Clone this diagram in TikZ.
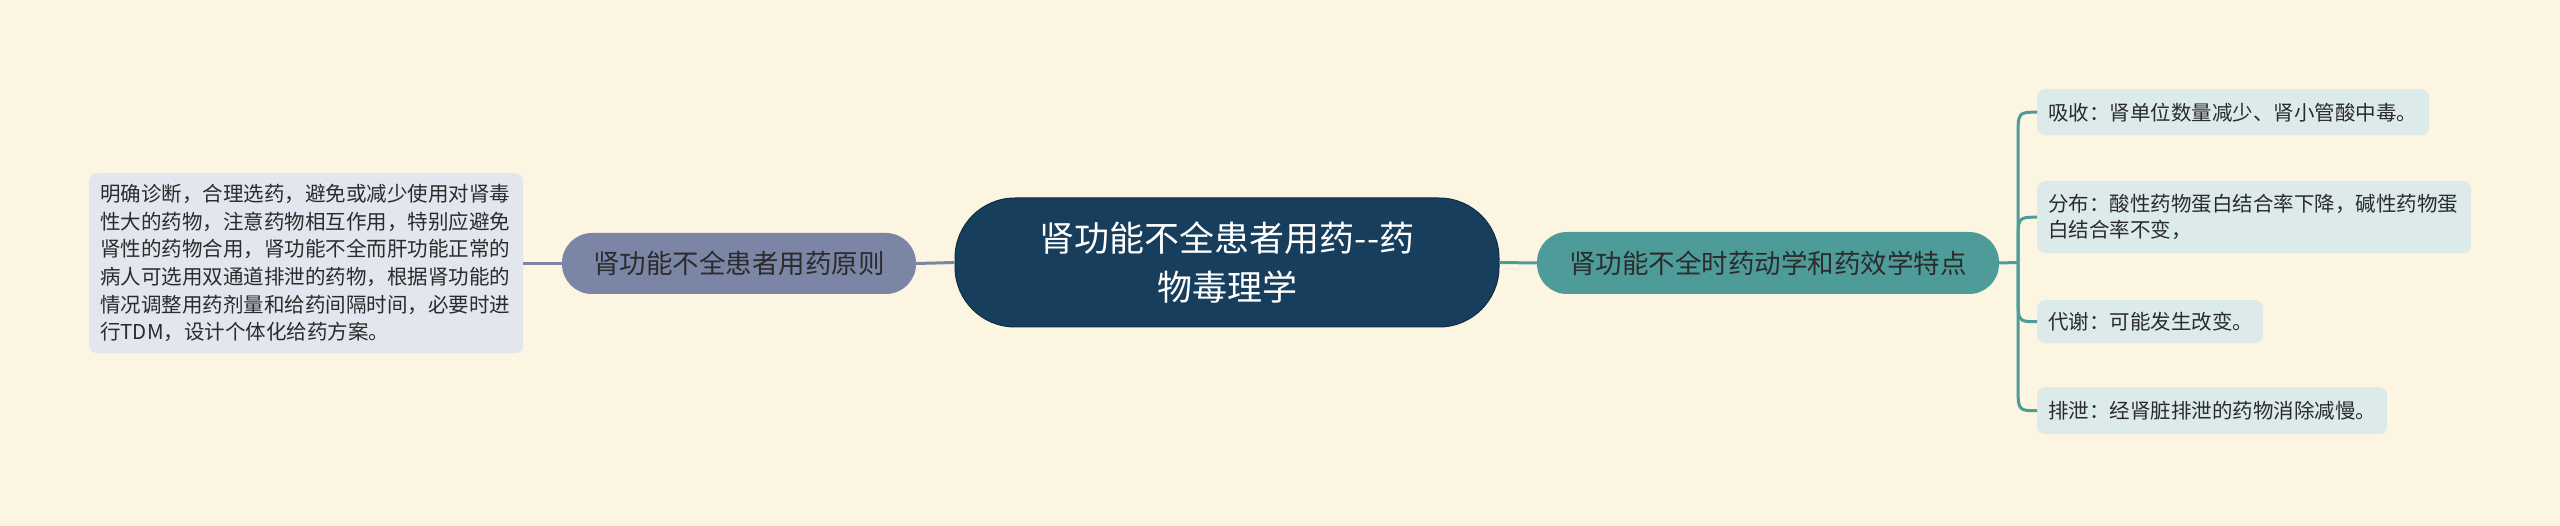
\documentclass[tikz,border=0pt]{standalone}
\usepackage{fontspec}
\setmainfont{Noto Sans CJK SC}
\usetikzlibrary{calc}
\definecolor{bgc}{HTML}{FBF5E1}
\definecolor{centerc}{HTML}{173E5C}
\definecolor{centerb}{HTML}{0F2E47}
\definecolor{lbc}{HTML}{7B86A6}
\definecolor{llc}{HTML}{E3E6EE}
\definecolor{rbc}{HTML}{4E9C99}
\definecolor{rlc}{HTML}{DCEBE9}
\definecolor{txt}{HTML}{2B2B2B}
\tikzset{
  leafbox/.style={rectangle, rounded corners=8pt, inner xsep=11pt, inner ysep=0pt, align=left, text=txt,
    font=\fontsize{20.5}{26}\selectfont, anchor=north west},
  branchbox/.style={rectangle, rounded corners=30pt, inner sep=0pt, align=center, text=txt,
    font=\fontsize{26.5}{32}\selectfont},
  lconn/.style={draw=lbc, line width=3pt},
  rconn/.style={draw=rbc, line width=3pt},
}
\begin{document}
\begin{tikzpicture}[x=1pt,y=1pt]
\fill[bgc] (0,0) rectangle (2560,-526);
\useasboundingbox (0,0) rectangle (2560,-526);
% center
\node[rectangle, rounded corners=60pt, fill=centerc, draw=centerb, line width=1pt, minimum width=544pt, minimum height=129pt,
  inner sep=0pt, align=center, text=white, font=\fontsize{35}{49}\selectfont] (c) at (1227,-262.5)
  {肾功能不全患者用药-{}-药\\物毒理学};
% left branch
\node[branchbox, fill=lbc, minimum width=354pt, minimum height=61pt] (lb) at (739,-263.5) {肾功能不全患者用药原则};
\node[leafbox, fill=llc, text width=412pt, minimum height=180pt, font=\fontsize{20.5}{27.6}\selectfont] (ll) at (89,-173)
  {明确诊断，合理选药，避免或减少使用对肾毒\\性大的药物，注意药物相互作用，特别应避免\\肾性的药物合用，肾功能不全而肝功能正常的\\病人可选用双通道排泄的药物，根据肾功能的\\情况调整用药剂量和给药间隔时间，必要时进\\行TDM，设计个体化给药方案。};
% right branch
\node[branchbox, fill=rbc, minimum width=462pt, minimum height=62pt] (rb) at (1768,-263) {肾功能不全时药动学和药效学特点};
\node[leafbox, fill=rlc, text width=370pt, minimum height=46pt] (l1) at (2037,-89) {吸收：肾单位数量减少、肾小管酸中毒。};
\node[leafbox, fill=rlc, text width=412pt, minimum height=72pt] (l2) at (2037,-181) {分布：酸性药物蛋白结合率下降，碱性药物蛋\\白结合率不变，};
\node[leafbox, fill=rlc, text width=204pt, minimum height=43pt] (l3) at (2037,-300) {代谢：可能发生改变。};
\node[leafbox, fill=rlc, text width=328pt, minimum height=47pt] (l4) at (2037,-387) {排泄：经肾脏排泄的药物消除减慢。};
% connectors
\coordinate (T) at (2018,-262.5);
\draw[lconn] (c.west) -- (lb.east);
\draw[lconn] (lb.west) -- (ll.east |- lb.west);
\draw[rconn] (c.east) -- (rb.west);
\draw[rconn] (rb.east) -- (T);
\draw[rconn] (T) -- ($(T |- l1.west)+(0,-26)$) .. controls (T |- l1.west) .. (l1.west);
\draw[rconn] (T) -- ($(T |- l2.west)+(0,-26)$) .. controls (T |- l2.west) .. (l2.west);
\draw[rconn] (T) -- ($(T |- l3.west)+(0,26)$) .. controls (T |- l3.west) .. (l3.west);
\draw[rconn] (T) -- ($(T |- l4.west)+(0,26)$) .. controls (T |- l4.west) .. (l4.west);
\end{tikzpicture}
\end{document}
